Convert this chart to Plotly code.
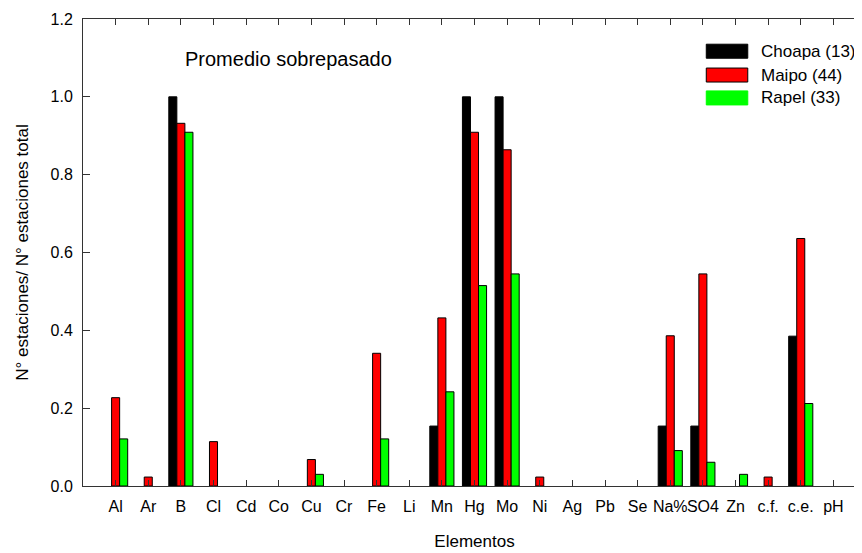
import plotly.graph_objects as go

categories = ["Al", "Ar", "B", "Cl", "Cd", "Co", "Cu", "Cr", "Fe", "Li", "Mn", "Hg",
              "Mo", "Ni", "Ag", "Pb", "Se", "Na%", "SO4", "Zn", "c.f.", "c.e.", "pH"]

choapa = [0, 0, 1.0, 0, 0, 0, 0, 0, 0, 0, 0.154, 1.0,
          1.0, 0, 0, 0, 0, 0.154, 0.154, 0, 0, 0.385, 0]
maipo = [0.227, 0.023, 0.932, 0.114, 0, 0, 0.068, 0, 0.341, 0, 0.432, 0.909,
         0.864, 0.023, 0, 0, 0, 0.386, 0.545, 0, 0.023, 0.636, 0]
rapel = [0.121, 0, 0.909, 0, 0, 0, 0.030, 0, 0.121, 0, 0.242, 0.515,
         0.545, 0, 0, 0, 0, 0.091, 0.061, 0.030, 0, 0.212, 0]

series_names = ["Choapa (13)", "Maipo (44)", "Rapel (33)"]
series_values = [choapa, maipo, rapel]
series_colors = ["#000000", "#ff0000", "#00ff00"]

y_ticks = [0.0, 0.2, 0.4, 0.6, 0.8, 1.0, 1.2]
y_ticktext = ["0.0", "0.2", "0.4", "0.6", "0.8", "1.0", "1.2"]

FONT = "Liberation Sans, Arial, Helvetica, sans-serif"

fig = go.Figure()
for name, vals, col in zip(series_names, series_values, series_colors):
    fig.add_trace(go.Bar(
        x=categories, y=[v if v else None for v in vals], name=name,
        marker=dict(color=col, line=dict(color="#000000", width=1)),
        showlegend=False,
    ))

fig.update_layout(
    width=862, height=553,
    margin=dict(l=75, r=4, t=11, b=75),
    paper_bgcolor="white", plot_bgcolor="white",
    barmode="group", bargap=0.26, bargroupgap=0,
    font=dict(family=FONT, size=16, color="#000000"),
)

fig.update_xaxes(
    type="category", range=[-1, 23], automargin=False,
    showline=True, linecolor="#333333", linewidth=1, mirror="ticks",
    ticks="inside", ticklen=6, tickcolor="#333333",
    showgrid=False, zeroline=False, tickangle=0,
    tickfont=dict(size=16), ticklabelstandoff=6,
    title=dict(text="Elementos", font=dict(size=17), standoff=20),
)
fig.update_yaxes(
    range=[0, 1.2], tickvals=y_ticks, ticktext=y_ticktext, automargin=False,
    showline=True, linecolor="#333333", linewidth=1, mirror="ticks",
    ticks="inside", ticklen=7, tickcolor="#333333",
    showgrid=False, zeroline=False,
    tickfont=dict(size=16), ticklabelstandoff=6,
    title=dict(text="N° estaciones/ N° estaciones total", font=dict(size=17), standoff=17),
)

fig.add_annotation(
    text="Promedio sobrepasado", xref="paper", yref="paper",
    x=0.263, y=0.914, xanchor="center", yanchor="middle",
    showarrow=False, font=dict(size=20, family=FONT),
)

# manual legend
row_y = [0.931, 0.880, 0.831]
for name, col, yy in zip(series_names, series_colors, row_y):
    fig.add_shape(
        type="rect", xref="paper", yref="paper",
        x0=0.796, x1=0.849, y0=yy - 0.015, y1=yy + 0.015,
        fillcolor=col, line=dict(color="#000000" if col != "#00ff00" else "#00ff00", width=1),
    )
    fig.add_annotation(
        text=name, xref="paper", yref="paper",
        x=0.863, y=yy, xanchor="left", yanchor="middle",
        showarrow=False, font=dict(size=17, family=FONT),
    )

fig.write_html("out.html")
